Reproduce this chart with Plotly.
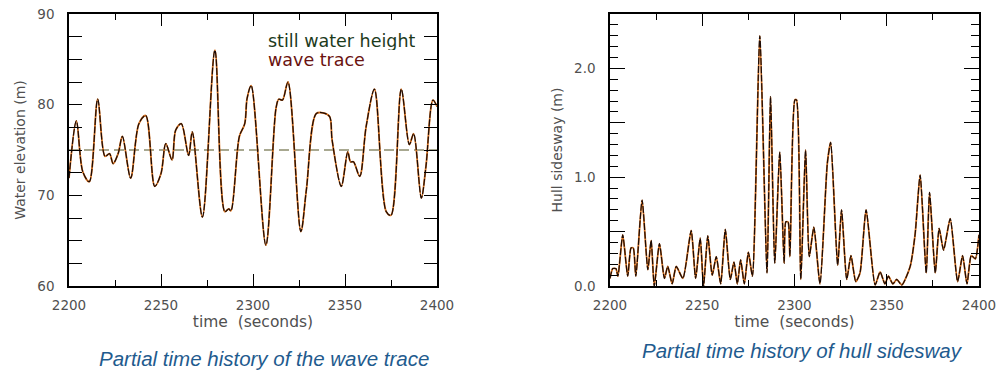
import plotly.graph_objects as go

# ---- data ----
wave_time = [2200, 2204, 2207.5, 2211, 2215.6, 2219.6, 2222, 2224, 2226.7, 2229, 2233.5, 2238, 2241.7,
             2246.6, 2250, 2252.6, 2256, 2258, 2261, 2265, 2267, 2272.5, 2279.3, 2284.7, 2286.8, 2288,
             2292.6, 2295.5, 2296.8, 2299, 2307, 2312.5, 2314, 2316, 2319, 2326, 2329, 2334.3, 2338,
             2341.6, 2343, 2348, 2351.5, 2353, 2354.6, 2358, 2361.5, 2366, 2372.4, 2375, 2380.6, 2385,
             2387.3, 2391.5, 2394, 2397.8, 2400]
wave_elev = [71.9, 78.2, 72.6, 71.5, 80.6, 74.3, 74.6, 73.5, 74.6, 76.5, 71.9, 77.9, 78.8,
             71.0, 72.4, 75.7, 73.9, 77.2, 77.9, 74.4, 77.0, 67.6, 86.0, 68.2, 68.5, 68.3,
             76.5, 77.9, 80.7, 82.1, 64.5, 79.6, 80.6, 80.5, 82.5, 66.0, 70.6, 79.0, 79.1,
             78.7, 76.1, 71.0, 74.8, 73.7, 73.7, 72.1, 77.6, 81.7, 68.2, 67.8, 81.7, 75.6,
             76.8, 69.7, 73.2, 80.5, 79.8]
still_water_level = 75

sway_time = [2200, 2201.5, 2203.2, 2204.3, 2206.9, 2209.6, 2211.4, 2212.6, 2214, 2217.4, 2220.5, 2222.3,
             2224, 2226.8, 2229.5, 2231.3, 2233.7, 2235.9, 2239.5, 2244, 2246.4, 2248.9, 2250.7, 2253,
             2255.4, 2257.6, 2260, 2262.5, 2265.2, 2267.2, 2269, 2270.8, 2272.8, 2275, 2277.2, 2281.2,
             2285.1, 2287, 2289.3, 2292, 2294.4, 2295.3, 2296.5, 2297.5, 2300.2, 2301.1, 2303.4, 2306,
             2308, 2310.5, 2313.8, 2317.8, 2319.6, 2323.4, 2325.5, 2328.3, 2330.6, 2333.2, 2335.5,
             2338.8, 2343.7, 2346.4, 2349, 2350.9, 2353.3, 2355.4, 2358.2, 2362.7, 2365.4, 2368.1,
             2371.4, 2373.2, 2376.3, 2378.4, 2380.8, 2384.4, 2388.4, 2391.1, 2393.5, 2395.8, 2398, 2400]
sway = [0.07, 0.16, 0.16, 0.09, 0.47, 0.09, 0.35, 0.35, 0.09, 0.79, 0.15, 0.42,
        0.0, 0.39, 0.07, 0.18, 0.02, 0.18, 0.07, 0.51, 0.07, 0.44, 0.0, 0.46,
        0.10, 0.27, 0.02, 0.52, 0.06, 0.22, 0.02, 0.24, 0.02, 0.31, 0.09, 2.30,
        0.12, 1.74, 0.21, 1.23, 0.21, 0.59, 0.59, 0.27, 1.71, 1.71, 0.06, 1.25,
        0.27, 0.54, 0.02, 1.13, 1.32, 0.19, 0.70, 0.06, 0.28, 0.04, 0.12,
        0.70, 0.01, 0.13, 0.02, 0.09, 0.02, 0.06, 0.01, 0.18, 0.48, 1.02,
        0.12, 0.86, 0.12, 0.53, 0.33, 0.62, 0.04, 0.28, 0.02, 0.28, 0.25, 0.47]

x_ticks = [2200, 2250, 2300, 2350, 2400]
wave_ticks = [60, 70, 80, 90]
sway_ticks = [0, 0.5, 1.0, 1.5, 2.0]
sway_ticktext = ["0.0", "", "1.0", "", "2.0"]

caption_left = "Partial time history of the wave trace"
caption_right = "Partial time history of hull sidesway"

# ---- figure ----
fig = go.Figure()

ORANGE = "#dc7420"
DARK = "#1e0c06"

fig.add_trace(go.Scatter(x=[2200, 2400], y=[still_water_level] * 2, mode="lines",
                         line=dict(color="#8c8c6c", width=1.5, dash="10px,5px"),
                         xaxis="x", yaxis="y", showlegend=False, hoverinfo="skip"))
fig.add_trace(go.Scatter(x=wave_time, y=wave_elev, mode="lines",
                         line=dict(color=ORANGE, width=1.8, shape="spline", smoothing=0.9),
                         xaxis="x", yaxis="y", showlegend=False))
fig.add_trace(go.Scatter(x=wave_time, y=wave_elev, mode="lines",
                         line=dict(color=DARK, width=1.25, shape="spline", smoothing=0.9, dash="7px,1.5px"),
                         xaxis="x", yaxis="y", showlegend=False))
fig.add_trace(go.Scatter(x=sway_time, y=sway, mode="lines",
                         line=dict(color=ORANGE, width=1.8, shape="spline", smoothing=0.6),
                         xaxis="x2", yaxis="y2", showlegend=False))
fig.add_trace(go.Scatter(x=sway_time, y=sway, mode="lines",
                         line=dict(color=DARK, width=1.25, shape="spline", smoothing=0.6, dash="7px,1.5px"),
                         xaxis="x2", yaxis="y2", showlegend=False))

TICKFONT = dict(family="DejaVu Sans", size=13.5, color="#505050")
TITLEFONT = dict(family="DejaVu Sans", size=15.5, color="#505050")
YTITLEFONT = dict(family="DejaVu Sans", size=14, color="#505050")
ydom = [87 / 373, 359 / 373]

common_x = dict(range=[2200, 2400], tickvals=x_ticks, ticks="inside", ticklen=12, tickwidth=1.3,
                tickcolor="black", mirror="ticks", showline=True, linecolor="black", linewidth=1.5,
                showgrid=False, zeroline=False, tickfont=TICKFONT, ticklabelstandoff=6, automargin=False,
                minor=dict(dtick=25, ticks="inside", ticklen=6, tickwidth=1.2, tickcolor="black"),
                title=dict(text="time\u00a0\u00a0(seconds)", font=TITLEFONT, standoff=0))

fig.update_layout(
    width=1005, height=373,
    margin=dict(l=0, r=0, t=0, b=0),
    paper_bgcolor="white", plot_bgcolor="white",
    xaxis=dict(domain=[69 / 1005, 437 / 1005], anchor="y", **common_x),
    yaxis=dict(domain=ydom, anchor="x", range=[60, 90], tickvals=wave_ticks,
               ticks="inside", ticklen=13, tickwidth=1.3, tickcolor="black", mirror="ticks",
               showline=True, linecolor="black", linewidth=1.5, showgrid=False, zeroline=False,
               tickfont=TICKFONT, ticklabelstandoff=10, automargin=False,
               minor=dict(dtick=2.5, ticks="inside", ticklen=13, tickwidth=1.2, tickcolor="black"),
               title=dict(text="Water elevation (m)", font=YTITLEFONT, standoff=8)),
    xaxis2=dict(domain=[610 / 1005, 979 / 1005], anchor="y2", **common_x),
    yaxis2=dict(domain=ydom, anchor="x2", range=[0, 2.5], tickvals=sway_ticks, ticktext=sway_ticktext,
                ticks="inside", ticklen=15, tickwidth=1.3, tickcolor="black", mirror="ticks",
                showline=True, linecolor="black", linewidth=1.5, showgrid=False, zeroline=False,
                tickfont=TICKFONT, ticklabelstandoff=10, automargin=False,
                minor=dict(dtick=0.1, ticks="inside", ticklen=8, tickwidth=1.2, tickcolor="black"),
                title=dict(text="Hull sidesway (m)", font=YTITLEFONT, standoff=8)),
    annotations=[
        dict(text="still water height", x=266 / 1005, y=1 - 41.5 / 373, xref="paper", yref="paper",
             xanchor="left", yanchor="middle", showarrow=False, height=18,
             font=dict(family="DejaVu Sans", size=17.5, color="#1c3a1c")),
        dict(text="wave trace", x=266 / 1005, y=1 - 59.5 / 373, xref="paper", yref="paper",
             xanchor="left", yanchor="middle", showarrow=False, height=18,
             font=dict(family="DejaVu Sans", size=17.5, color="#6a1210")),
        dict(text="<i>" + caption_left + "</i>", x=264 / 1005, y=1 - 358 / 373, xref="paper", yref="paper",
             xanchor="center", yanchor="middle", showarrow=False,
             font=dict(family="Liberation Sans", size=20.5, color="#1f5b8e")),
        dict(text="<i>" + caption_right + "</i>", x=802 / 1005, y=1 - 350 / 373, xref="paper", yref="paper",
             xanchor="center", yanchor="middle", showarrow=False,
             font=dict(family="Liberation Sans", size=20.5, color="#1f5b8e")),
    ],
)

fig.write_html("out.html", config={"displayModeBar": False},
               post_script="document.body.style.margin='0';document.body.style.padding='0';"
                           "document.documentElement.style.overflow='hidden';")
